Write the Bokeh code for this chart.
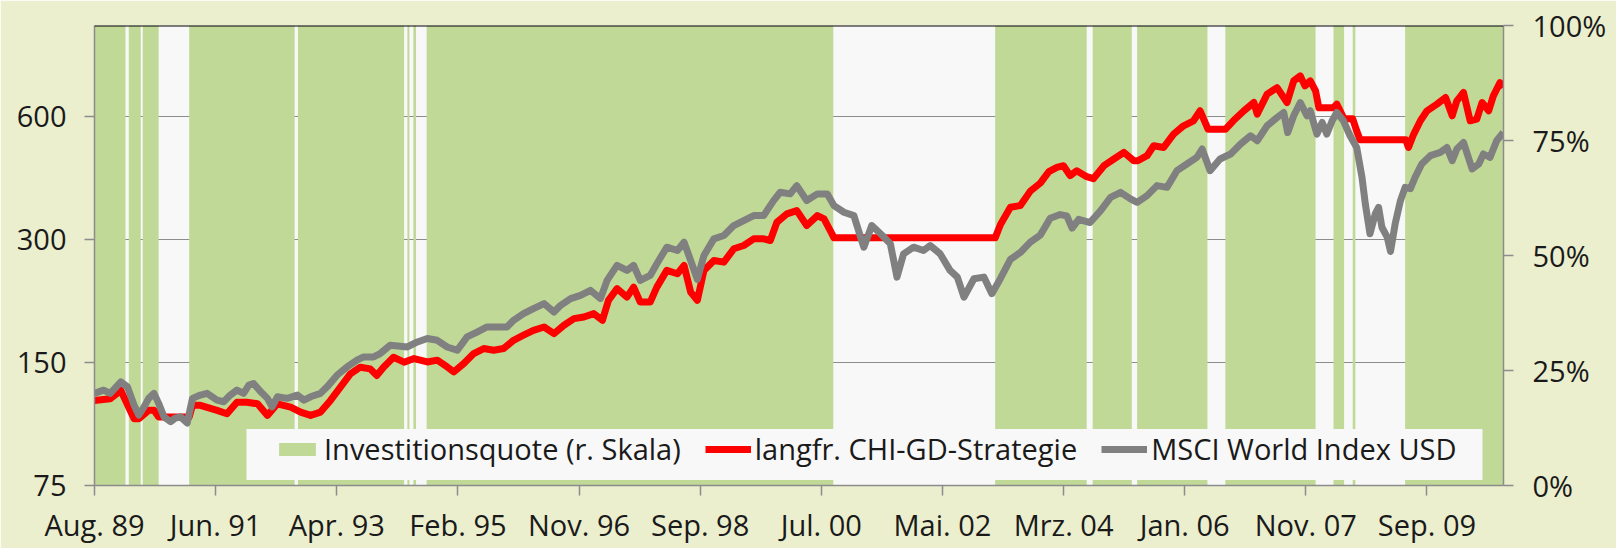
from bokeh.plotting import figure
from bokeh.models import (Range1d, LinearAxis, LinearScale, FixedTicker, PrintfTickFormatter,
                          CustomJSTickFormatter, Legend, LegendItem, Span, BoxAnnotation)
from bokeh.embed import file_html
from bokeh.resources import INLINE

# ---------------- data ----------------
tick_labels = ["Aug. 89", "Jun. 91", "Apr. 93", "Feb. 95", "Nov. 96", "Sep. 98",
               "Jul. 00", "Mai. 02", "Mrz. 04", "Jan. 06", "Nov. 07", "Sep. 09"]
left_ticks = [75, 150, 300, 600]
right_ticks = [0, 25, 50, 75, 100]

# Investitionsquote (in %), periods of full investment
band_start = [1989.58, 1990.10, 1990.31, 1991.01, 1992.65, 1994.30, 1994.39, 1994.59,
              2003.16, 2004.63, 2005.30, 2006.63, 2008.26, 2008.55, 2009.34]
band_end = [1990.05, 1990.28, 1990.55, 1992.60, 1994.25, 1994.33, 1994.43, 2000.72,
            2004.54, 2005.22, 2006.36, 2007.99, 2008.42, 2008.59, 2010.82]
band_quote = [100, 100, 100, 100, 100, 100, 100, 100, 100, 100, 100, 100, 100, 100, 100]

strat_year = [
    1989.58, 1989.82, 1989.98, 1990.18, 1990.25, 1990.40, 1990.48, 1990.55, 1991.01, 1991.06,
    1991.18, 1991.43, 1991.58, 1991.73, 1991.88, 1992.04, 1992.19, 1992.34, 1992.54, 1992.69,
    1992.84, 1992.99, 1993.14, 1993.29, 1993.44, 1993.59, 1993.74, 1993.84, 1993.94, 1994.09,
    1994.25, 1994.40, 1994.60, 1994.75, 1994.90, 1995.00, 1995.15, 1995.30, 1995.45, 1995.60,
    1995.75, 1995.90, 1996.05, 1996.20, 1996.36, 1996.51, 1996.66, 1996.81, 1996.96, 1997.11,
    1997.24, 1997.33, 1997.46, 1997.61, 1997.71, 1997.81, 1997.96, 1998.06, 1998.21, 1998.37,
    1998.47, 1998.57, 1998.67, 1998.77, 1998.92, 1999.07, 1999.22, 1999.37, 1999.52, 1999.67,
    1999.77, 1999.87, 2000.02, 2000.17, 2000.32, 2000.48, 2000.58, 2000.70, 2000.73, 2003.16,
    2003.24, 2003.39, 2003.54, 2003.69, 2003.84, 2003.97, 2004.09, 2004.19, 2004.29, 2004.39,
    2004.54, 2004.64, 2004.80, 2004.95, 2005.10, 2005.25, 2005.31, 2005.45, 2005.55, 2005.70,
    2005.85, 2006.00, 2006.15, 2006.25, 2006.37, 2006.63, 2006.75, 2006.91, 2007.06, 2007.11,
    2007.26, 2007.41, 2007.56, 2007.66, 2007.76, 2007.83, 2007.91, 2007.99, 2008.04, 2008.26,
    2008.31, 2008.41, 2008.43, 2008.55, 2008.61, 2008.66, 2009.35, 2009.39, 2009.47, 2009.57,
    2009.67, 2009.82, 2009.95, 2010.05, 2010.12, 2010.22, 2010.32, 2010.42, 2010.50, 2010.60,
    2010.67, 2010.77, 2010.82]
strat_value = [
    121.1, 122.2, 128.1, 109.2, 109.2, 114.5, 114.5, 110.3, 110.3, 117.8,
    117.8, 114.5, 112.3, 119.9, 119.9, 118.8, 111.3, 118.8, 116.6, 113.4,
    111.3, 113.4, 121.1, 130.5, 140.6, 146.0, 144.6, 139.4, 146.0, 154.4,
    150.2, 153.3, 150.4, 151.9, 146.2, 142.2, 149.1, 157.7, 162.2, 160.6,
    162.2, 169.9, 174.8, 179.7, 183.1, 176.4, 184.9, 191.9, 193.7, 197.4,
    190.1, 212.7, 227.2, 216.7, 229.2, 210.7, 210.7, 229.2, 251.8, 247.1,
    259.0, 222.9, 212.7, 251.8, 266.3, 263.8, 284.4, 289.7, 300.8, 300.8,
    298.0, 330.3, 346.2, 352.7, 324.2, 342.9, 336.6, 309.4, 302.5, 302.5,
    326.0, 359.5, 362.7, 393.5, 411.6, 439.1, 449.8, 454.1, 429.3, 441.5,
    426.9, 422.1, 454.1, 471.5, 489.4, 467.0, 467.0, 480.4, 508.1, 503.3,
    542.6, 568.6, 584.8, 618.6, 557.4, 557.4, 584.8, 618.6, 648.0, 607.1,
    679.3, 705.0, 648.0, 732.0, 752.9, 711.7, 732.0, 692.0, 629.0, 629.0,
    642.2, 595.7, 591.3, 591.3, 552.7, 525.5, 525.5, 503.3, 542.6, 584.8,
    618.6, 642.2, 666.5, 601.4, 654.3, 685.5, 584.8, 590.4, 648.0, 618.6,
    672.9, 725.1, 705.0]

msci_year = [
    1989.58, 1989.72, 1989.82, 1989.98, 1990.08, 1990.18, 1990.25, 1990.33, 1990.40, 1990.48,
    1990.55, 1990.63, 1990.73, 1990.80, 1990.88, 1990.98, 1991.06, 1991.18, 1991.28, 1991.43,
    1991.53, 1991.63, 1991.73, 1991.83, 1991.91, 1991.98, 1992.09, 1992.19, 1992.26, 1992.34,
    1992.49, 1992.64, 1992.74, 1992.84, 1992.99, 1993.09, 1993.24, 1993.39, 1993.54, 1993.64,
    1993.79, 1993.89, 1994.04,
    1994.30, 1994.45, 1994.60, 1994.75, 1994.90, 1995.05, 1995.20, 1995.35, 1995.50, 1995.65,
    1995.80, 1995.90, 1996.05, 1996.20, 1996.36, 1996.51, 1996.61, 1996.76, 1996.91, 1997.06,
    1997.21, 1997.31, 1997.46, 1997.61, 1997.71, 1997.81, 1997.96, 1998.06, 1998.21, 1998.37,
    1998.47, 1998.57, 1998.67, 1998.77, 1998.92, 1999.07, 1999.22, 1999.37, 1999.52, 1999.67,
    1999.82, 1999.92, 2000.07, 2000.17, 2000.32, 2000.48, 2000.63, 2000.73, 2000.88, 2001.03,
    2001.18, 2001.30, 2001.46, 2001.58, 2001.68, 2001.78, 2001.93, 2002.08, 2002.18, 2002.33,
    2002.48, 2002.59, 2002.69, 2002.84, 2002.99, 2003.11, 2003.24, 2003.39, 2003.54, 2003.69,
    2003.84, 2003.99, 2004.14, 2004.24, 2004.32, 2004.42, 2004.59, 2004.75, 2004.90, 2005.05,
    2005.20, 2005.30, 2005.45, 2005.60, 2005.75, 2005.90, 2006.05, 2006.20, 2006.28, 2006.40,
    2006.55, 2006.71, 2006.86, 2007.01, 2007.11, 2007.26, 2007.41, 2007.51, 2007.57, 2007.66,
    2007.76, 2007.86, 2007.91, 2008.01, 2008.09, 2008.16, 2008.24, 2008.31, 2008.41, 2008.51,
    2008.61, 2008.69, 2008.74, 2008.81, 2008.89, 2008.94, 2008.99, 2009.07, 2009.12, 2009.19,
    2009.27, 2009.34, 2009.42, 2009.49, 2009.59, 2009.72, 2009.87, 2009.97, 2010.05, 2010.12,
    2010.22, 2010.35, 2010.45, 2010.52, 2010.62, 2010.72, 2010.82]
msci_value = [
    126.0, 128.3, 126.0, 134.4, 130.7, 117.9, 111.5, 116.8, 122.5, 126.0,
    119.1, 110.4, 107.4, 109.6, 110.4, 106.6, 122.5, 124.8, 126.0, 121.3,
    120.2, 124.8, 128.3, 126.0, 132.0, 133.2, 127.1, 122.5, 116.8, 123.6,
    122.5, 124.8, 121.3, 123.6, 126.0, 130.7, 139.6, 146.2, 151.9, 154.7,
    154.7, 157.7, 165.2,
    163.6, 168.3, 171.6, 169.9, 163.6, 160.6, 173.1, 178.0, 183.1, 183.1,
    183.1, 190.1, 197.4, 203.0, 208.8, 199.2, 206.9, 214.8, 218.8, 225.0,
    214.8, 238.0, 259.0, 251.8, 259.0, 238.0, 244.8, 261.4, 287.0, 281.7,
    295.2, 266.3, 239.4, 273.9, 300.8, 306.5, 324.2, 333.4, 342.9, 342.9,
    373.1, 390.9, 387.4, 405.9, 373.1, 387.4, 387.4, 362.7, 349.4, 342.9,
    287.0, 324.2, 306.5, 292.5, 242.5, 276.5, 287.0, 281.7, 289.7, 276.5,
    251.8, 242.5, 216.7, 240.3, 242.5, 220.9, 240.7, 267.8, 278.6, 295.3,
    307.2, 337.7, 344.8, 342.3, 319.5, 335.7, 329.7, 352.7, 380.0, 390.9,
    376.6, 369.5, 383.7, 405.9, 402.0, 441.5, 458.5, 475.8, 498.8, 441.5,
    471.5, 485.0, 513.0, 537.5, 522.6, 568.6, 595.7, 612.7, 547.5, 601.4,
    648.0, 601.4, 618.6, 542.6, 579.2, 542.6, 584.8, 612.7, 584.8, 537.5,
    503.3, 425.2, 366.2, 309.4, 346.2, 359.3, 321.1, 303.6, 280.1, 327.3,
    373.1, 402.0, 399.1, 425.2, 458.5, 480.4, 489.4, 503.3, 467.0, 498.8,
    517.6, 445.8, 458.5, 485.0, 475.8, 522.6, 547.5]

# ---------------- layout / style ----------------
X0, X1 = 1989.583, 2010.823
Y0, Y1 = 75, 1000
TICK_START, TICK_STEP = 1989.583, 1.826
FW, FH = 1409, 460

PAGE_BG = "#EBEFCE"
PLOT_BG = "#F8F8F8"
GREEN = "#C1D997"
RED = "#FF0000"
GREY = "#808080"
AXIS_GREY = "#8C8C8C"
TXT = "#1A1A1A"
FONT = "Open Sans"

p = figure(width=1616, height=548, x_range=Range1d(X0, X1), y_range=Range1d(Y0, Y1),
           y_axis_type="log", output_backend="svg", toolbar_location=None,
           min_border_left=94, min_border_right=113, min_border_top=25, min_border_bottom=63,
           background_fill_color=PLOT_BG, border_fill_color=PAGE_BG, outline_line_color=None)
p.extra_y_ranges = {"pct": Range1d(0, 100)}
p.extra_y_scales = {"pct": LinearScale()}

r_band = p.quad(left=band_start, right=band_end, bottom=0, top=band_quote,
                y_range_name="pct", fill_color=GREEN, line_color=None)
r_red = p.line(strat_year, strat_value, line_color=RED, line_width=7, line_join="round")
r_grey = p.line(msci_year, msci_value, line_color=GREY, line_width=7, line_join="round")

p.add_layout(Span(location=Y1, dimension="width", line_color="black", line_width=2))

# grid
p.xgrid.visible = False
p.ygrid.ticker = FixedTicker(ticks=left_ticks)
p.ygrid.grid_line_color = AXIS_GREY
p.ygrid.grid_line_width = 1

def style_axis(ax, standoff):
    ax.axis_line_color = AXIS_GREY
    ax.axis_line_width = 1.5
    ax.major_tick_line_color = AXIS_GREY
    ax.major_tick_line_width = 1.5
    ax.major_tick_out = 10
    ax.major_tick_in = 0
    ax.minor_tick_line_color = None
    ax.major_label_text_font = FONT
    ax.major_label_text_font_size = "29px"
    ax.major_label_text_color = TXT
    ax.major_label_standoff = standoff

# left axis
ly = p.yaxis[0]
ly.ticker = FixedTicker(ticks=left_ticks)
ly.formatter = PrintfTickFormatter(format="%d")
style_axis(ly, 18)

# right axis
ry = LinearAxis(y_range_name="pct", ticker=FixedTicker(ticks=right_ticks),
                formatter=PrintfTickFormatter(format="%d%%"))
style_axis(ry, 19)
p.add_layout(ry, "right")

# bottom axis
bx = p.xaxis[0]
bx.ticker = FixedTicker(ticks=[TICK_START + i * TICK_STEP for i in range(len(tick_labels))])
bx.formatter = CustomJSTickFormatter(
    args=dict(labels=tick_labels, start=TICK_START, step=TICK_STEP),
    code="const i = Math.round((tick - start) / step); return labels[i] || '';")
style_axis(bx, 9)

# legend background box (pixel offsets in frame converted to data coords)
def fx(px):
    return X0 + px * (X1 - X0) / FW

def fy(px):
    return Y0 * (Y1 / Y0) ** (px / FH)

p.add_layout(BoxAnnotation(left=fx(152), right=fx(1388), bottom=fy(5.6), top=fy(56.6),
                           fill_color=PLOT_BG, fill_alpha=1.0, line_color=None))

legend = Legend(items=[LegendItem(label="Investitionsquote (r. Skala)", renderers=[r_band]),
                       LegendItem(label="langfr. CHI-GD-Strategie", renderers=[r_red]),
                       LegendItem(label="MSCI World Index USD", renderers=[r_grey])],
                orientation="horizontal", location=(180, 17),
                glyph_width=46, glyph_height=16, label_standoff=4, spacing=24,
                padding=0, margin=0, background_fill_alpha=0, border_line_color=None,
                label_text_font=FONT, label_text_font_size="29px", label_text_color=TXT)
p.add_layout(legend)

open("out.html", "w").write(file_html(p, INLINE))
